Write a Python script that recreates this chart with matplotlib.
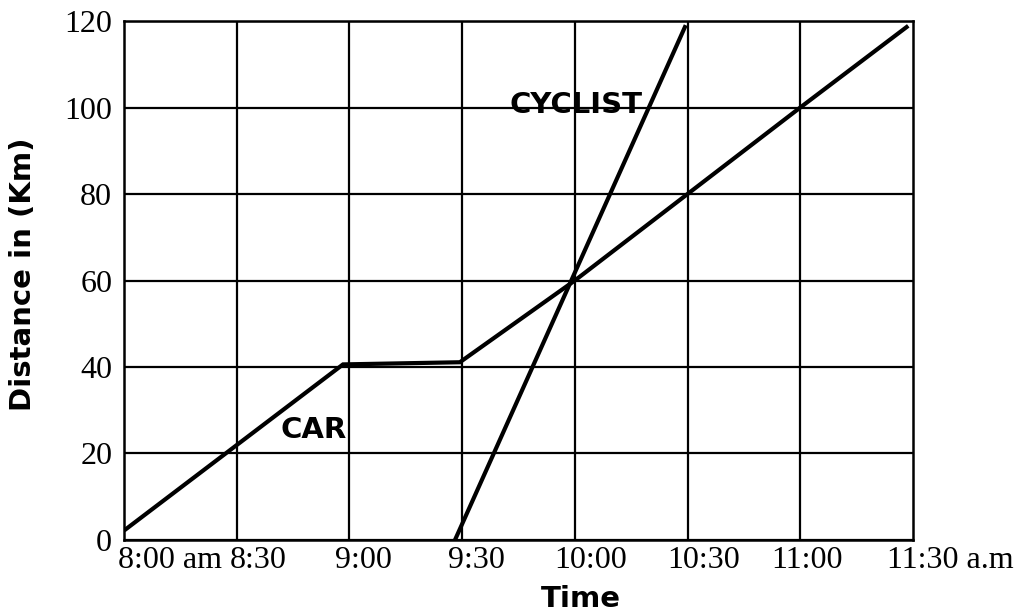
import matplotlib.pyplot as plt

# minutes after 8:00 am, distance in km
car_time = [0.5, 58.3, 89.4, 120, 180, 208.3]
car_dist = [2.5, 40.6, 41.1, 60, 100, 118.6]

cyclist_time = [88.1, 149.3]
cyclist_dist = [0, 118.6]

grid_times = [0, 30, 60, 90, 120, 150, 180, 210]
time_labels = ["8:00 am", "8:30", "9:00", "9:30", "10:00", "10:30", "11:00", "11:30 a.m"]
# where each label starts (the labels are left aligned, not centred on the grid)
label_start = [-1.6, 28.2, 56.1, 86.2, 114.4, 144.5, 172.4, 203.0]

dist_ticks = [0, 20, 40, 60, 80, 100, 120]

fig = plt.figure(figsize=(10.17, 6.13), dpi=100)
ax = fig.add_axes([0.1219, 0.1191, 0.7758, 0.8466])

ax.plot(car_time, car_dist, color="black", lw=3, solid_joinstyle="miter", zorder=3)
ax.plot(cyclist_time, cyclist_dist, color="black", lw=3, zorder=3)

for t in grid_times[1:-1]:
    ax.axvline(t, color="black", lw=1.6, zorder=1)
ax.grid(which="major", axis="y", color="black", lw=1.6)

ax.set_xticks([])
ax.set_yticks(dist_ticks)
ax.set_xlim(grid_times[0], grid_times[-1])
ax.set_ylim(0, 120)
ax.tick_params(which="both", length=0)
ax.tick_params(axis="y", pad=8.5)
for lab in ax.get_yticklabels():
    lab.set_fontfamily("Liberation Serif")
    lab.set_fontsize(23)

# time labels drawn as text so the first one may start left of the axis
for x, s in zip(label_start, time_labels):
    ax.text(x, -0.012, s, transform=ax.get_xaxis_transform(), ha="left", va="top",
            fontfamily="Liberation Serif", fontsize=23, clip_on=False)

for sp in ax.spines.values():
    sp.set_linewidth(1.8)

ax.text(50.6, 25.4, "CAR", fontsize=21, fontweight="bold", ha="center", va="center")
ax.text(120.3, 100.6, "CYCLIST", fontsize=21, fontweight="bold", ha="center", va="center")

ax.set_xlabel("Time", fontsize=21, fontweight="bold")
ax.set_ylabel("Distance in (Km)", fontsize=21, fontweight="bold")
ax.xaxis.set_label_coords(0.579, -0.087)
ax.yaxis.set_label_coords(-0.110, 0.512)

fig.savefig("out.png", dpi=100)
